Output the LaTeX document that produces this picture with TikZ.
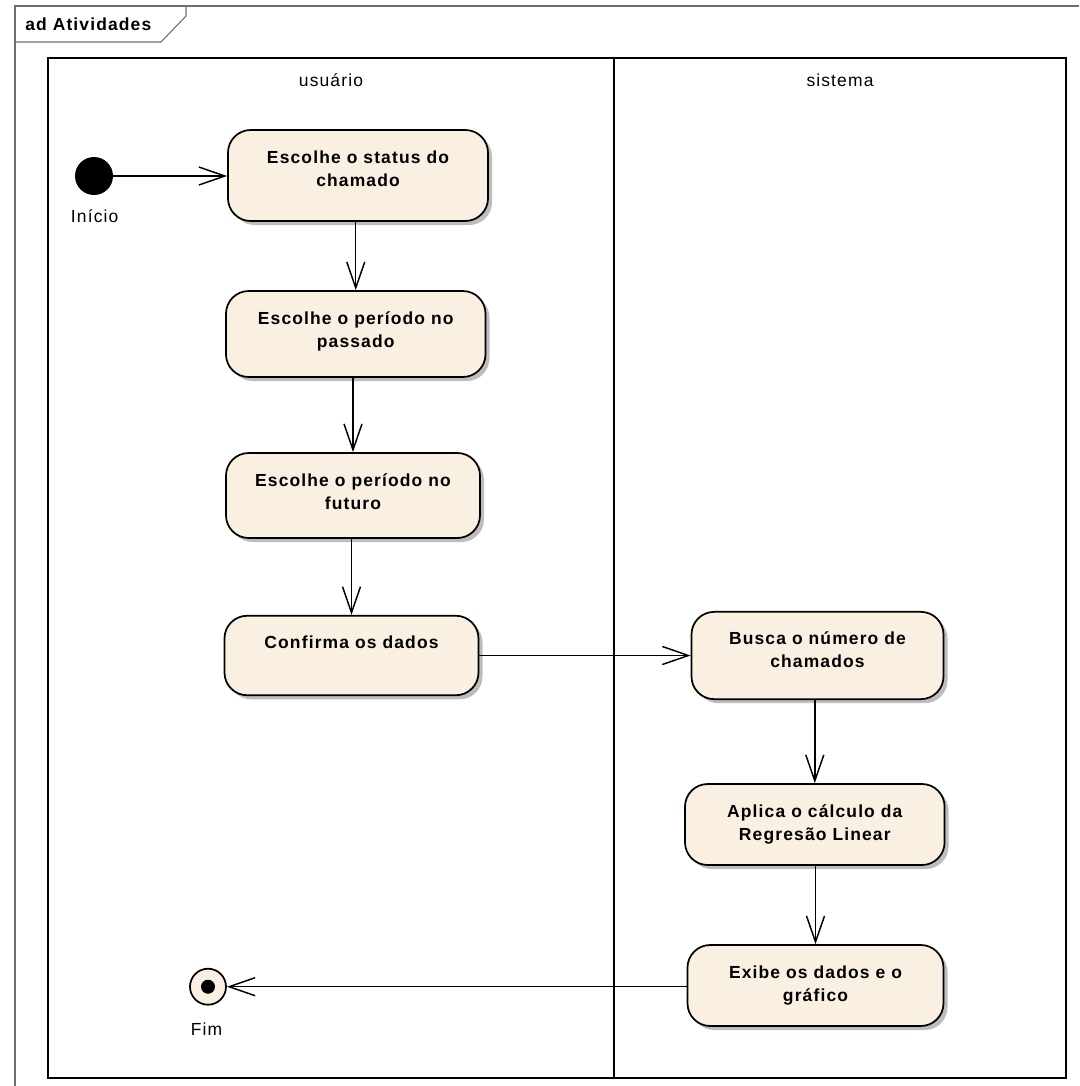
\documentclass[tikz,border=0pt]{standalone}
\usepackage{fontspec}
\setmainfont{Liberation Sans}[LetterSpace=6.5]
\usetikzlibrary{arrows.meta,shadows}
\definecolor{actfill}{HTML}{FAF0E2}
\definecolor{shadowgray}{HTML}{BDBDBD}
\definecolor{framegray}{HTML}{6E6E6E}
\newcommand\mytwolines[2]{\begin{tabular}[t]{@{}c@{}}#1\\#2\end{tabular}}
\tikzset{
  act/.style={draw=black, line width=1.3pt, fill=actfill, rounded corners=17pt,
    drop shadow={shadow xshift=3pt, shadow yshift=-3pt, fill=shadowgray, opacity=1},
    inner sep=0pt},
  acttext/.style={anchor=base, inner sep=0pt, font=\bfseries\fontsize{13.1}{17.25}\selectfont},
  flow/.style={line width=1.1pt, -{Straight Barb[length=19.5pt, width=13.5pt, line width=1.1pt]}},
  plainlbl/.style={anchor=base, inner sep=0pt, font=\fontsize{13.1}{15}\selectfont},
  lane/.style={line width=1.5pt, draw=black},
  frameline/.style={line width=0.8pt, draw=framegray},
}
\begin{document}
\begin{tikzpicture}[x=0.75pt, y=-0.75pt]
\useasboundingbox (0,0) rectangle (1079,1086);
% frame
\draw[frameline] (15,1086) -- (15,6) -- (1079,6);
\draw[frameline] (15,42) -- (161,42) -- (186,16) -- (186,6);
\node[anchor=base west, inner sep=0pt, font=\bfseries\fontsize{13.1}{15}\selectfont] (ftitle) at (25,30.5) {ad Atividades};
% swimlanes
\draw[lane] (48,58) rectangle (1066,1078);
\draw[lane] (614,58) -- (614,1078);
\node[plainlbl] (lane1) at (331,86.5) {usuário};
\node[plainlbl] (lane2) at (840,86.5) {sistema};
% start / end
\node[circle, fill=black, minimum size=38*0.75pt, inner sep=0pt] (start) at (94,176) {};
\node[plainlbl] (startl) at (94.7,222.5) {Início};
\node[circle, draw=black, line width=1.3pt, fill=actfill, minimum size=36*0.75pt, inner sep=0pt] (end) at (208,986.7) {};
\node[circle, fill=black, minimum size=14*0.75pt, inner sep=0pt] (enddot) at (end) {};
\node[plainlbl] (endl) at (206.6,1035) {Fim};
% activities
\node[act, minimum width=260*0.75pt, minimum height=91*0.75pt] (a1) at (358,175.5) {};
\node[acttext] (a1t) at ([yshift=-25.5pt]a1.north) {\mytwolines{Escolhe o status do}{chamado}};
\node[act, minimum width=259.5*0.75pt, minimum height=86*0.75pt] (a2) at (355.75,334) {};
\node[acttext] (a2t) at ([yshift=-25.5pt]a2.north) {\mytwolines{Escolhe o período no}{passado}};
\node[act, minimum width=254*0.75pt, minimum height=85*0.75pt] (a3) at (353,495.5) {};
\node[acttext] (a3t) at ([yshift=-25.5pt]a3.north) {\mytwolines{Escolhe o período no}{futuro}};
\node[act, minimum width=254*0.75pt, minimum height=79.5*0.75pt] (a4) at (351.5,655.5) {};
\node[acttext] (a4t) at ([yshift=-25.5pt]a4.north) {Confirma os dados};
\node[act, minimum width=252*0.75pt, minimum height=87.3*0.75pt] (b1) at (817.5,655.5) {};
\node[acttext] (b1t) at ([yshift=-25.5pt]b1.north) {\mytwolines{Busca o número de}{chamados}};
\node[act, minimum width=259.6*0.75pt, minimum height=81*0.75pt] (b2) at (814.8,824.5) {};
\node[acttext] (b2t) at ([yshift=-25.5pt]b2.north) {\mytwolines{Aplica o cálculo da}{Regresão Linear}};
\node[act, minimum width=256*0.75pt, minimum height=81*0.75pt] (b3) at (815.5,985.5) {};
\node[acttext] (b3t) at ([yshift=-25.5pt]b3.north) {\mytwolines{Exibe os dados e o}{gráfico}};
% flows
\draw[flow] (start.east) -- (a1.west |- start.east);
\draw[flow] (a1.south -| a2.north) -- (a2.north);
\draw[flow] (a2.south -| a3.north) -- (a3.north);
\draw[flow] (a3.south -| a4.north) -- (a4.north);
\draw[flow] (a4.east) -- (b1.west |- a4.east);
\draw[flow] (b1.south -| b2.north) -- (b2.north);
\draw[flow] (b2.south -| b3.north) -- (b3.north);
\draw[flow] (b3.west |- end.east) -- (end.east);
\end{tikzpicture}
\end{document}
